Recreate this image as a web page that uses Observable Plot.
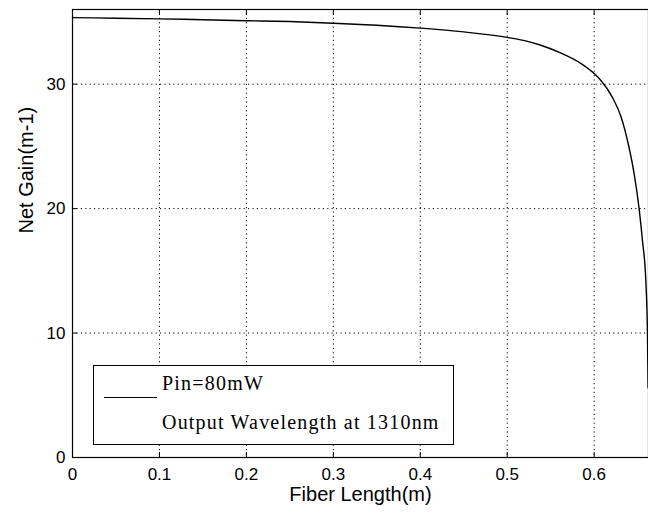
<!DOCTYPE html>
<html>
<head>
<meta charset="utf-8">
<script src="https://cdn.jsdelivr.net/npm/d3@7"></script>
<script src="https://cdn.jsdelivr.net/npm/@observablehq/plot@0.6"></script>
<style>
  html, body { margin: 0; padding: 0; background: #fff; }
  #wrap { position: relative; width: 648px; height: 517px; }
  #legend { position: absolute; left: 93px; top: 365px; width: 359px; height: 78px;
    border: 1px solid #000; background: #fff; font-family: "Liberation Serif", serif;
    font-size: 20px; letter-spacing: 1.2px; color: #000; }
  #legend .sw { position: absolute; left: 10px; top: 31px; width: 53px; border-top: 1.5px solid #000; }
  #legend .t1 { position: absolute; left: 68px; top: 6px; white-space: nowrap; }
  #legend .t2 { position: absolute; left: 68px; top: 45px; white-space: nowrap; }
</style>
</head>
<body>
<div id="wrap"></div>
<script>
// Fiber length (m) and net gain (m-1)
const fiberLength = [0, 0.05, 0.1, 0.15, 0.2, 0.25, 0.3, 0.35, 0.4, 0.45, 0.5, 0.52, 0.537, 0.56, 0.585, 0.6, 0.608, 0.621, 0.631, 0.64, 0.646, 0.6517, 0.6556, 0.6594, 0.6613, 0.662];
const netGain     = [35.35, 35.3, 35.25, 35.18, 35.1, 35.03, 34.9, 34.73, 34.5, 34.2, 33.76, 33.5, 33.17, 32.55, 31.65, 30.85, 30.28, 28.94, 27.36, 24.95, 22.8, 20.0, 17.4, 14.2, 10.0, 5.6];
const xTicks = [0, 0.1, 0.2, 0.3, 0.4, 0.5, 0.6];
const yTicks = [0, 10, 20, 30];
const xLabel = "Fiber Length(m)";
const yLabel = "Net Gain(m-1)";
const legendLines = ["Pin=80mW", "Output Wavelength at 1310nm"];

const data = fiberLength.map((x, i) => ({x, y: netGain[i]}));

const chart = Plot.plot({
  width: 648,
  height: 517,
  marginLeft: 72,
  marginRight: 0,
  marginTop: 9,
  marginBottom: 60,
  style: {fontFamily: "'Liberation Sans', Arial, sans-serif", color: "#000", background: "#fff"},
  x: {domain: [0, 0.6625]},
  y: {domain: [0, 36]},
  marks: [
    Plot.gridX(xTicks.filter(d => d !== 0), {stroke: "#000", strokeOpacity: 1, strokeDasharray: "1.2,3.2"}),
    Plot.gridY(yTicks.filter(d => d !== 0), {stroke: "#000", strokeOpacity: 1, strokeDasharray: "1.2,3.2"}),
    Plot.frame({stroke: "#000", strokeWidth: 1.2}),
    Plot.axisX(xTicks, {anchor: "bottom", tickSize: -5, tickFormat: () => "", label: null}),
    Plot.axisX(xTicks, {anchor: "top", tickSize: -5, tickFormat: () => "", label: null}),
    Plot.axisY(yTicks, {anchor: "left", tickSize: -5, tickFormat: () => "", label: null}),
    Plot.axisX(xTicks, {anchor: "bottom", tickSize: 0, tickPadding: 10, fontSize: 17, label: null, tickFormat: d => String(d)}),
    Plot.axisY(yTicks, {anchor: "left", tickSize: 0, tickPadding: 7, fontSize: 17, label: null, tickFormat: d => String(d)}),
    Plot.text([xLabel], {frameAnchor: "bottom", dy: 43, fontSize: 20, text: d => d}),
    Plot.text([yLabel], {frameAnchor: "left", dx: -46, rotate: -90, fontSize: 20, text: d => d}),
    Plot.line(data, {x: "x", y: "y", stroke: "#000", strokeWidth: 1.4, curve: "monotone-x"})
  ]
});

const wrap = document.getElementById("wrap");
wrap.appendChild(chart);
const legend = document.createElement("div");
legend.id = "legend";
legend.innerHTML = `<div class="sw"></div><div class="t1">${legendLines[0]}</div><div class="t2">${legendLines[1]}</div>`;
wrap.appendChild(legend);
</script>
</body>
</html>
